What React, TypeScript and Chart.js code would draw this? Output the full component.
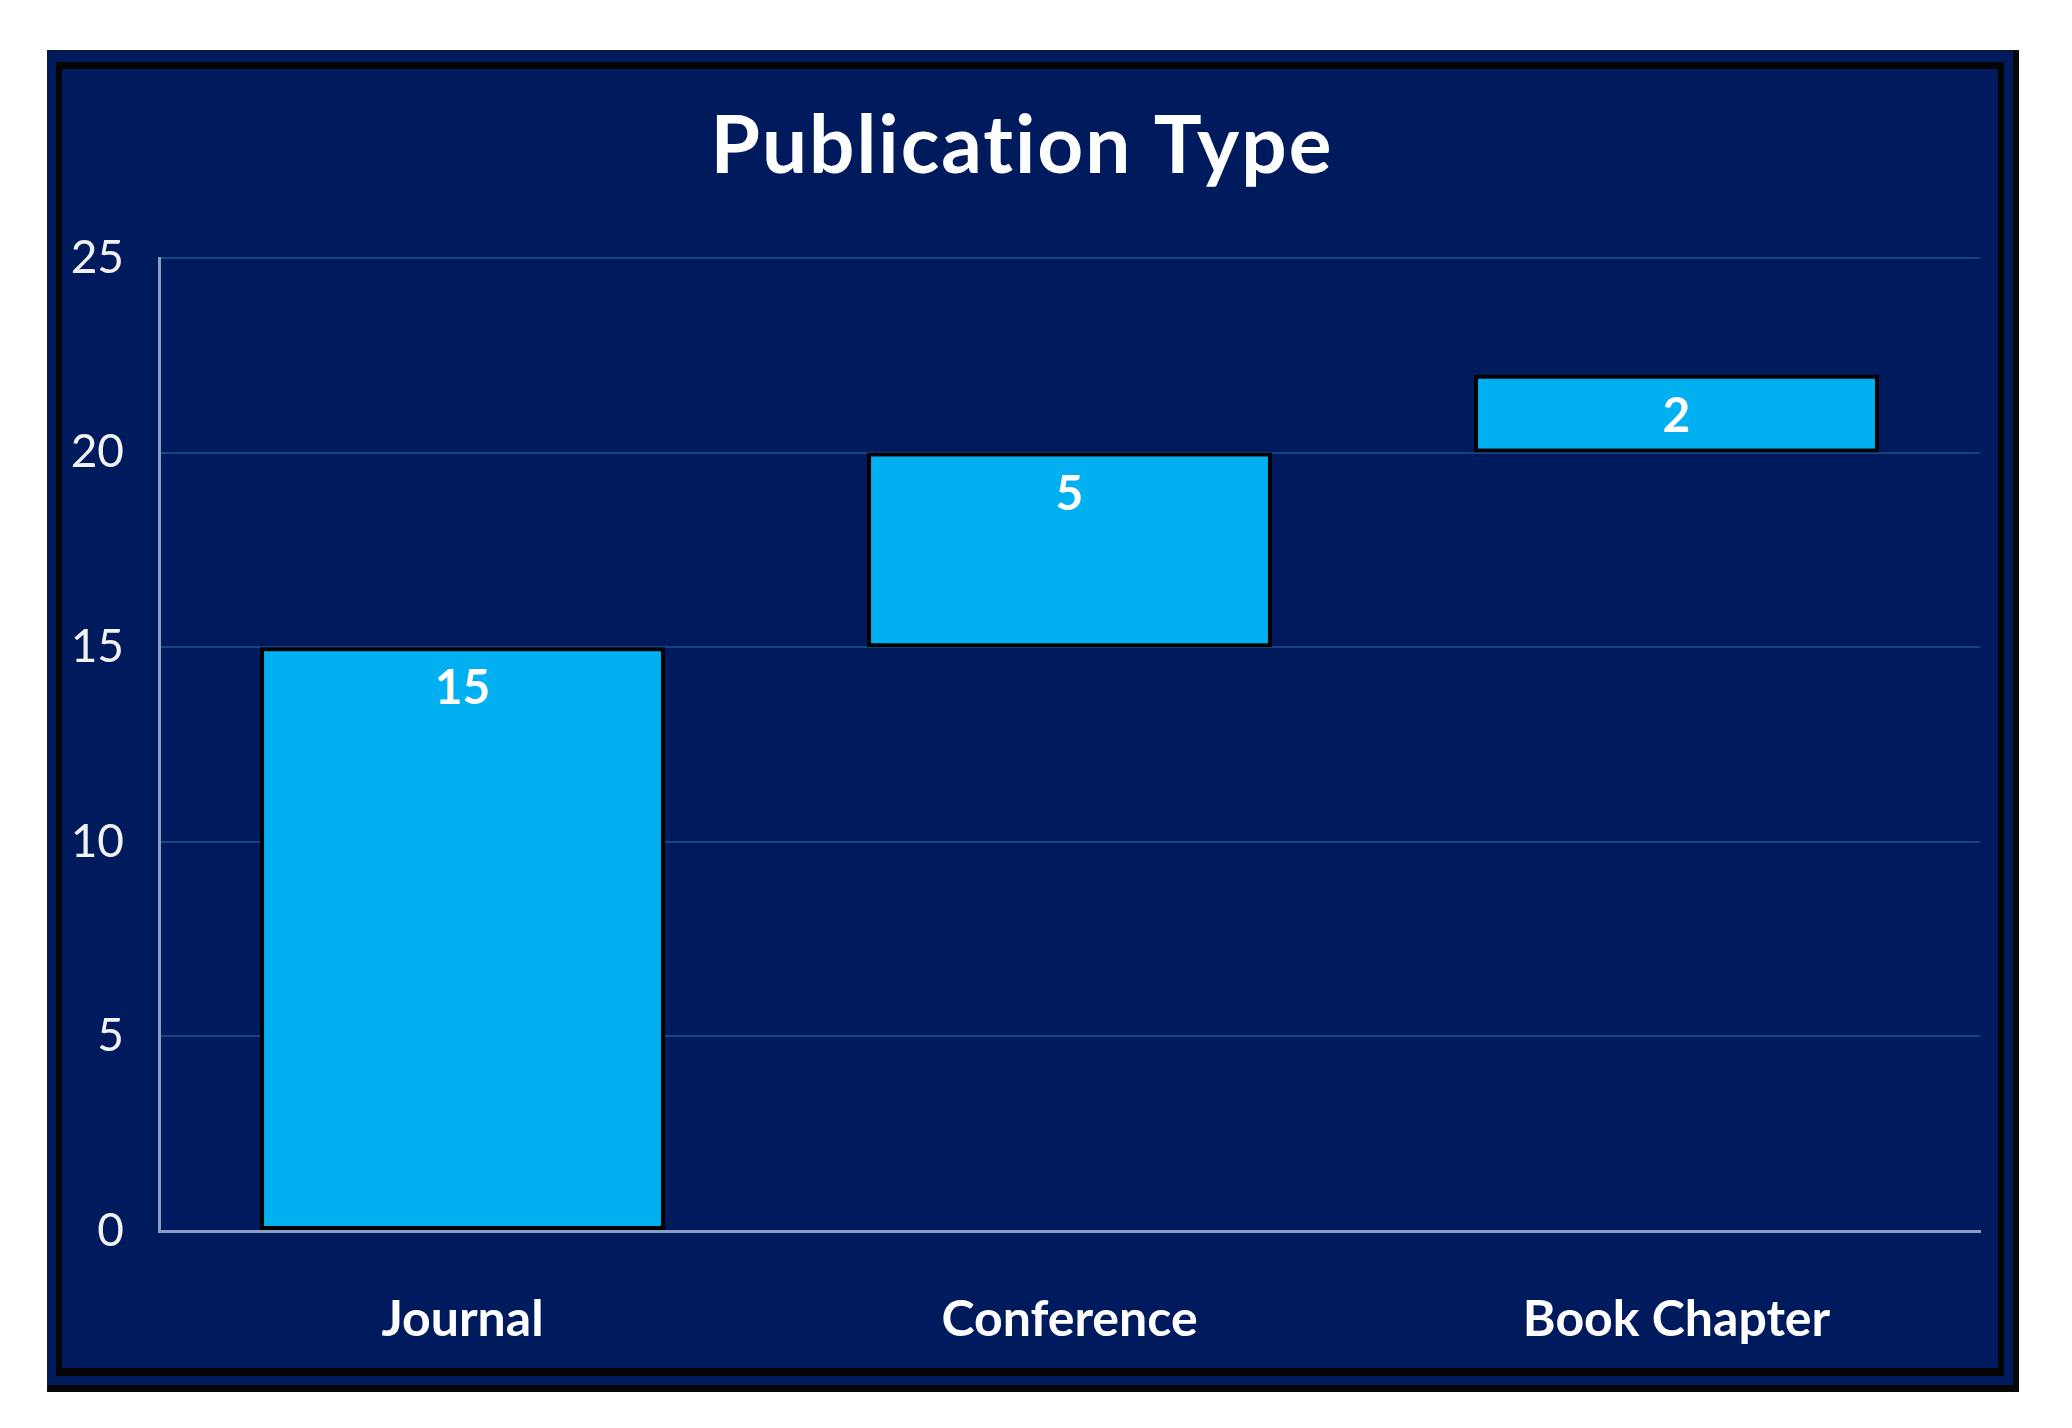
import React, { useEffect, useRef } from 'react';
import { Chart, registerables } from 'chart.js';

Chart.register(...registerables);

const titleText = 'Publication Type';
const categories = ['Journal', 'Conference', 'Book Chapter'];
const barStarts = [0, 15, 20];
const barValues = [15, 5, 2];
const yTickMin = 0;
const yTickMax = 25;
const yTickStep = 5;

const NAVY = '#001a5e';
const BAR = '#00b0f0';

export default function App() {
  const ref = useRef<HTMLCanvasElement>(null);

  useEffect(() => {
    document.body.style.margin = '0';
    const canvas = ref.current;
    if (!canvas) return;
    const ranges = barStarts.map((s, i) => [s, s + barValues[i]]);

    const labelPlugin = {
      id: 'barLabels',
      afterDatasetsDraw(chart: any) {
        const ctx = chart.ctx;
        const meta = chart.getDatasetMeta(0);
        ctx.save();
        ctx.fillStyle = '#ffffff';
        ctx.font = 'bold 48px Lato';
        ctx.textAlign = 'center';
        ctx.textBaseline = 'alphabetic';
        meta.data.forEach((el: any, i: number) => {
          const top = Math.min(el.y, el.base);
          ctx.fillText(String(barValues[i]), el.x, top + 57);
        });
        ctx.restore();
      },
    };

    const chart = new Chart(canvas, {
      type: 'bar',
      data: {
        labels: categories,
        datasets: [
          {
            data: ranges as any,
            backgroundColor: BAR,
            borderColor: '#000000',
            borderWidth: 4,
            borderSkipped: false,
            categoryPercentage: 1,
            barPercentage: 0.667,
          },
        ],
      },
      options: {
        responsive: false,
        animation: false,
        devicePixelRatio: 1,
        layout: { padding: { left: 0, right: 18, top: 0, bottom: 0 } },
        plugins: {
          legend: { display: false },
          tooltip: { enabled: false },
          title: {
            display: true,
            text: titleText,
            color: '#ffffff',
            font: { family: 'Lato', size: 80, weight: 'bold', lineHeight: 1.2 },
            padding: { top: 30, bottom: 63 },
          },
        },
        scales: {
          x: {
            grid: { display: false, drawTicks: false },
            border: { display: true, color: '#8b9cc7', width: 3, z: 1 },
            ticks: {
              color: '#ffffff',
              font: { family: 'Lato', size: 50, weight: 'bold', lineHeight: 1.2 },
              padding: 59,
            },
            afterFit(scale: any) {
              scale.height = 137;
            },
          },
          y: {
            min: yTickMin,
            max: yTickMax,
            ticks: {
              stepSize: yTickStep,
              color: '#f2f2f2',
              font: { family: 'Lato', size: 46, lineHeight: 1.2 },
              padding: 35,
            },
            grid: { color: '#174482', lineWidth: 2, drawTicks: false },
            border: { display: true, color: '#8b9cc7', width: 3, z: 1 },
            afterFit(scale: any) {
              scale.width = 97;
            },
          },
        },
      },
      plugins: [labelPlugin],
    });

    // Give the title a little letter spacing, as in the reference.
    const tb: any = (chart as any).titleBlock;
    if (tb) {
      const origDraw = tb.draw.bind(tb);
      tb.draw = (area: any) => {
        const ctx: any = chart.ctx;
        ctx.save();
        ctx.letterSpacing = '2px';
        ctx.translate(1, 0);
        origDraw(area);
        ctx.restore();
      };
      chart.draw();
    }

    return () => chart.destroy();
  }, []);

  return (
    <div style={{ position: 'relative', width: 2072, height: 1428, background: '#ffffff' }}>
      <div
        style={{
          position: 'absolute',
          left: 47,
          top: 50,
          width: 1972,
          height: 1342,
          boxSizing: 'border-box',
          background: NAVY,
          borderLeft: '1px solid #1a1a1a',
          borderTop: '1px solid #1a1a1a',
          borderRight: '6px solid #080808',
          borderBottom: '7px solid #080808',
        }}
      />
      <div
        style={{
          position: 'absolute',
          left: 56,
          top: 62,
          width: 1948,
          height: 1314,
          boxSizing: 'border-box',
          background: NAVY,
          borderLeft: '6px solid #050505',
          borderTop: '7px solid #050505',
          borderRight: '6px solid #050505',
          borderBottom: '8px solid #050505',
        }}
      >
        <canvas
          ref={ref}
          width={1936}
          height={1299}
          style={{ display: 'block', width: 1936, height: 1299, background: NAVY }}
        />
      </div>
    </div>
  );
}
